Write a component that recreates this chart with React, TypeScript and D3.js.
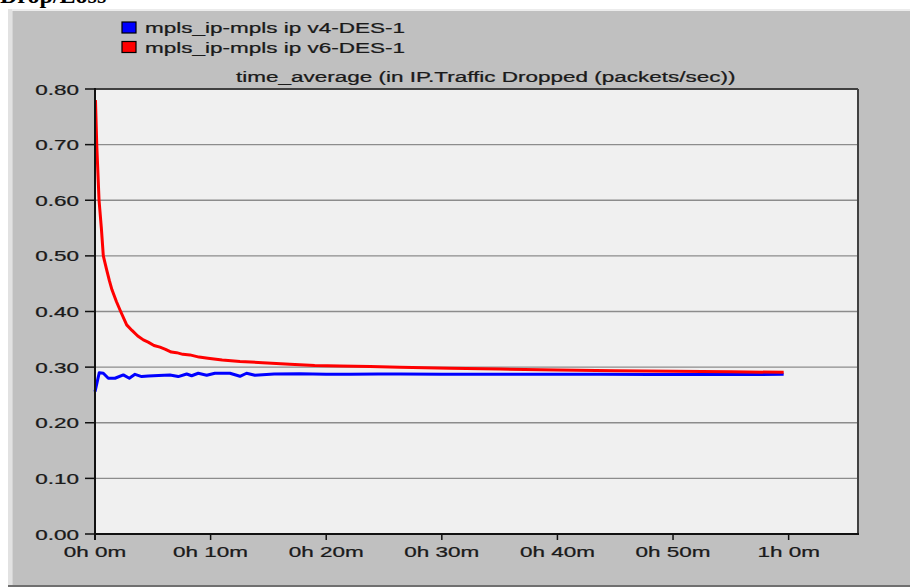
import React from "react";
import * as d3 from "d3";

const seriesNames = ["mpls_ip-mpls ip v4-DES-1", "mpls_ip-mpls ip v6-DES-1"];
const seriesColors = ["#0000ff", "#ff0000"];
const chartTitle = "time_average (in IP.Traffic Dropped (packets/sec))";
const pageTitle = "Drop/Loss";

// time in minutes
const blueTimes = [0, 0.37, 0.72, 1.15, 1.73, 2.45, 2.97, 3.46, 4.04, 4.61, 5.5, 6.48, 7.2, 7.93, 8.36, 8.93, 9.66, 10.37, 11.67, 12.54, 13.11, 13.83, 15.5, 17.7, 20.0, 22.05, 24.5, 26.4, 30.0, 35.0, 40.0, 43.7, 48.0, 52.3, 56.0, 59.57];
const blueValues = [0.256, 0.290, 0.289, 0.280, 0.280, 0.286, 0.280, 0.287, 0.283, 0.284, 0.285, 0.286, 0.283, 0.2877, 0.2845, 0.289, 0.2855, 0.289, 0.289, 0.2835, 0.289, 0.2855, 0.2875, 0.288, 0.2872, 0.287, 0.2878, 0.2875, 0.2872, 0.2874, 0.287, 0.287, 0.2868, 0.2868, 0.2866, 0.287];

const redTimes = [0.04, 0.15, 0.35, 0.55, 0.72, 1.01, 1.25, 1.47, 1.85, 2.22, 2.74, 3.2, 3.7, 4.18, 4.6, 5.1, 5.62, 6.1, 6.6, 7.06, 7.6, 8.21, 9.0, 9.77, 11.0, 12.54, 14.5, 16.86, 19.0, 21.18, 23.8, 26.37, 30.69, 35.01, 40.0, 45.0, 50.0, 55.0, 59.57];
const redValues = [0.780, 0.70, 0.60, 0.55, 0.50, 0.475, 0.455, 0.439, 0.418, 0.400, 0.376, 0.366, 0.356, 0.349, 0.345, 0.339, 0.336, 0.332, 0.327, 0.326, 0.323, 0.322, 0.318, 0.316, 0.313, 0.310, 0.308, 0.305, 0.303, 0.302, 0.301, 0.2997, 0.298, 0.2966, 0.295, 0.2935, 0.2925, 0.2915, 0.2907];

const yTicks = [0, 0.1, 0.2, 0.3, 0.4, 0.5, 0.6, 0.7, 0.8];
const xTicks = [0, 10, 20, 30, 40, 50, 60];
const xTickLabels = ["0h 0m", "0h 10m", "0h 20m", "0h 30m", "0h 40m", "0h 50m", "1h 0m"];

const W = 910;
const H = 587;
const plot = { left: 95, right: 858, top: 89, bottom: 534 };
const FONT = "'Liberation Sans', Arial, sans-serif";
const SX = 1.5;

function SText({ x, y, anchor = "start", children, size = 15 }: any) {
  return (
    <text
      transform={`translate(${x},${y}) scale(${SX},1)`}
      textAnchor={anchor}
      fontFamily={FONT}
      fontSize={size}
      fill="#1a1a1a"
      stroke="#1a1a1a"
      strokeWidth={0.25}
    >
      {children}
    </text>
  );
}

export default function App() {
  const x = d3.scaleLinear().domain([0, 66]).range([plot.left, plot.right]);
  const y = d3.scaleLinear().domain([0, 0.8]).range([plot.bottom, plot.top]);
  const line = d3
    .line<[number, number]>()
    .x((d) => x(d[0]))
    .y((d) => y(d[1]));
  const blueData: [number, number][] = blueTimes.map((t, i) => [t, blueValues[i]]);
  const redData: [number, number][] = redTimes.map((t, i) => [t, redValues[i]]);

  return (
    <div style={{ position: "absolute", left: 0, top: 0 }}>
      <svg width={W} height={H} style={{ display: "block" }}>
        <rect x={0} y={0} width={W} height={H} fill="#ffffff" />
        <text x={0} y={3} fontFamily="'Liberation Serif', 'Times New Roman', serif" fontWeight="bold" fontSize={24} fill="#000">
          {pageTitle}
        </text>
        {/* panel */}
        <rect x={8} y={9} width={W - 8} height={577} fill="#c0c0c0" />
        <rect x={8} y={9} width={W - 8} height={2} fill="#ececec" />
        <rect x={8} y={9} width={4} height={577} fill="#e2e2e2" />
        <rect x={12} y={11} width={1} height={575} fill="#d4d4d4" />
        <rect x={8} y={585} width={W - 8} height={2} fill="#707070" />

        {/* legend */}
        {seriesNames.map((n, i) => (
          <g key={n} transform={`translate(0,${i * 19.5})`}>
            <rect x={122} y={22} width={14} height={11} fill={seriesColors[i]} stroke="#000" strokeWidth={1.2} />
            <SText x={145} y={33}>{n}</SText>
          </g>
        ))}

        <SText x={236} y={82}>{chartTitle}</SText>

        {/* plot area */}
        <rect x={plot.left} y={plot.top} width={plot.right - plot.left} height={plot.bottom - plot.top} fill="#f0f0f0" />
        {yTicks.slice(1, -1).map((t) => (
          <line key={t} x1={plot.left} x2={plot.right} y1={y(t)} y2={y(t)} stroke="#8c8c8c" strokeWidth={1.3} />
        ))}
        {/* frame */}
        <line x1={plot.left} x2={plot.right} y1={plot.top} y2={plot.top} stroke="#404040" strokeWidth={2} />
        <line x1={plot.right} x2={plot.right} y1={plot.top} y2={plot.bottom} stroke="#404040" strokeWidth={2} />

        {/* series */}
        <path d={line(blueData) || ""} fill="none" stroke={seriesColors[0]} strokeWidth={3} strokeLinejoin="round" />
        <path d={line(redData) || ""} fill="none" stroke={seriesColors[1]} strokeWidth={3} strokeLinejoin="round" />

        {/* axes */}
        <line x1={plot.left} x2={plot.left} y1={plot.top - 1} y2={plot.bottom + 6} stroke="#111" strokeWidth={2} />
        <line x1={plot.left} x2={plot.right + 1} y1={plot.bottom} y2={plot.bottom} stroke="#111" strokeWidth={2} />
        {yTicks.map((t) => (
          <g key={t}>
            <line x1={plot.left - 10} x2={plot.left} y1={y(t)} y2={y(t)} stroke="#111" strokeWidth={1.5} />
            <SText x={79} y={y(t) + 5.5} anchor="end">{t.toFixed(2)}</SText>
          </g>
        ))}
        {xTicks.map((t, i) => (
          <g key={t}>
            <line x1={x(t)} x2={x(t)} y1={plot.bottom} y2={plot.bottom + 6} stroke="#111" strokeWidth={1.5} />
            <SText x={x(t)} y={556.5} anchor="middle">{xTickLabels[i]}</SText>
          </g>
        ))}
      </svg>
    </div>
  );
}
